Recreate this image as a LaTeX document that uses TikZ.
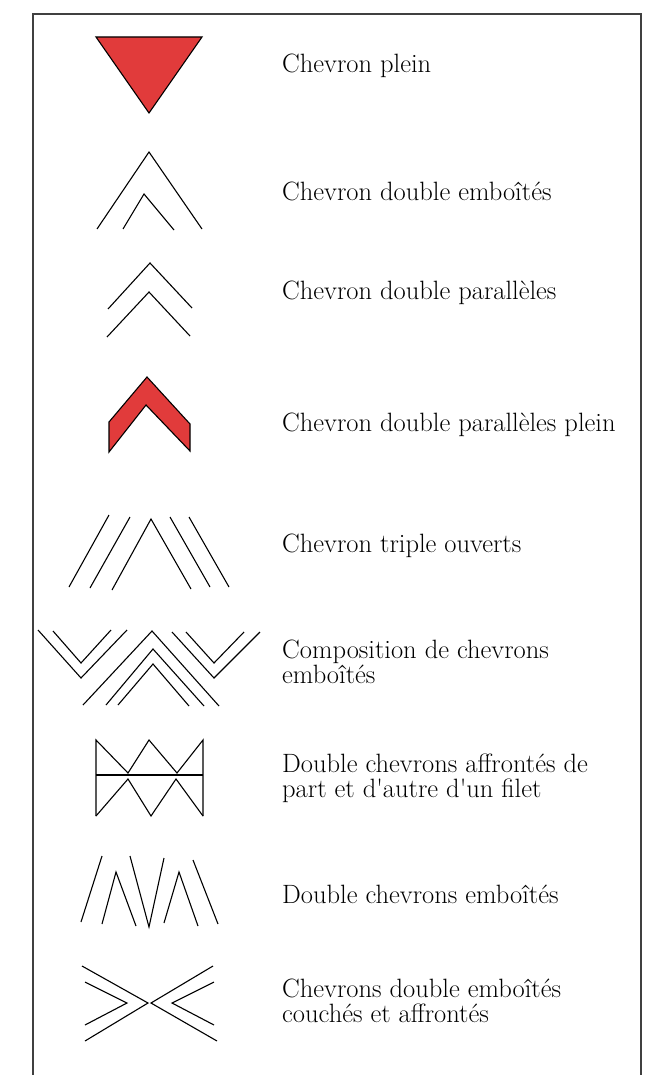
\documentclass[tikz,border=0pt]{standalone}
\usepackage{tikz}
\definecolor{chevred}{RGB}{225,59,59}

\begin{document}
\begin{tikzpicture}[
  x=1pt, y=-1pt,
  every node/.style={font=\fontsize{26.5}{25}\selectfont},
  legende/.style={anchor=base west, align=left, inner sep=0pt},
  frame/.style={draw=black!75, line width=1.3pt},
  chev/.style={draw, line width=1.1pt, line join=miter},
  plein/.style={chev, fill=chevred}
]
\useasboundingbox (0,0) rectangle (653,1075);
\draw[frame] (33,1075) |- (641,14) -- (641,1075);

% chevron plein
\path[plein] (96,37) -- (202,37) -- (149,113) -- cycle;
\node[legende] (plein) at (282,73) {Chevron plein};

% double emboites
\draw[chev] (97,229) -- (149,152) -- (202,229);
\draw[chev] (123,229) -- (144,194) -- (174,230);
\node[legende] (emboites) at (282,201) {Chevron double emboîtés};

% double paralleles
\draw[chev] (108,309) -- (150,263) -- (192,308);
\draw[chev] (107,337) -- (149,292) -- (190,336);
\node[legende] (paralleles) at (282,299) {Chevron double parallèles};

% double paralleles plein
\path[plein] (147,377) -- (190,424) -- (190,451) -- (146,405)
  -- (109,452) -- (109,422) -- cycle;
\node[legende] (parplein) at (282,431) {Chevron double parallèles plein};

% triple ouverts
\draw[chev] (109,515) -- (69,587);
\draw[chev] (130,517) -- (90,588);
\draw[chev] (112,590) -- (151,519) -- (191,589);
\draw[chev] (170,517) -- (210,587);
\draw[chev] (189,517) -- (229,587);
\node[legende] (triple) at (282,552) {Chevron triple ouverts};

% composition
\draw[chev] (38,630) -- (81,678) -- (127,630);
\draw[chev] (53,631) -- (81,663) -- (111,630);
\draw[chev] (83,705) -- (152,631) -- (219,706);
\draw[chev] (106,705) -- (153,649) -- (204,706);
\draw[chev] (118,705) -- (153,664) -- (189,706);
\draw[chev] (172,632) -- (214,678) -- (260,632);
\draw[chev] (186,632) -- (214,663) -- (244,632);
\node[legende] (compo) at (282,683) {Composition de chevrons\\emboîtés};

% affrontes de part et d'autre d'un filet
\draw[chev] (96,816) -- (96,740) -- (128,773) -- (149,740) -- (177,773)
  -- (203,740) -- (203,816);
\draw[chev] (96,816) -- (128,779) -- (151,816) -- (176,779) -- (203,816);
\draw[chev] (96,775) -- (203,775);
\node[legende] (filet) at (282,797)
  {Double chevrons affrontés de\\part et d\textquotesingle autre d\textquotesingle un filet};

% double chevrons emboites
\draw[chev] (102,856) -- (81,922);
\draw[chev] (102,924) -- (116,872) -- (136,926);
\draw[chev] (130,856) -- (149,927) -- (164,858);
\draw[chev] (164,923) -- (179,872) -- (198,926);
\draw[chev] (193,860) -- (218,924);
\node[legende] (dblemb) at (282,903) {Double chevrons emboîtés};

% couches et affrontes
\draw[chev] (82,966) -- (148,1003) -- (85,1041);
\draw[chev] (85,982) -- (127,1003) -- (85,1025);
\draw[chev] (213,966) -- (151,1003) -- (217,1041);
\draw[chev] (214,982) -- (172,1003) -- (214,1025);
\node[legende] (couches) at (282,1022)
  {Chevrons double emboîtés\\couchés et affrontés};
\end{tikzpicture}
\end{document}
